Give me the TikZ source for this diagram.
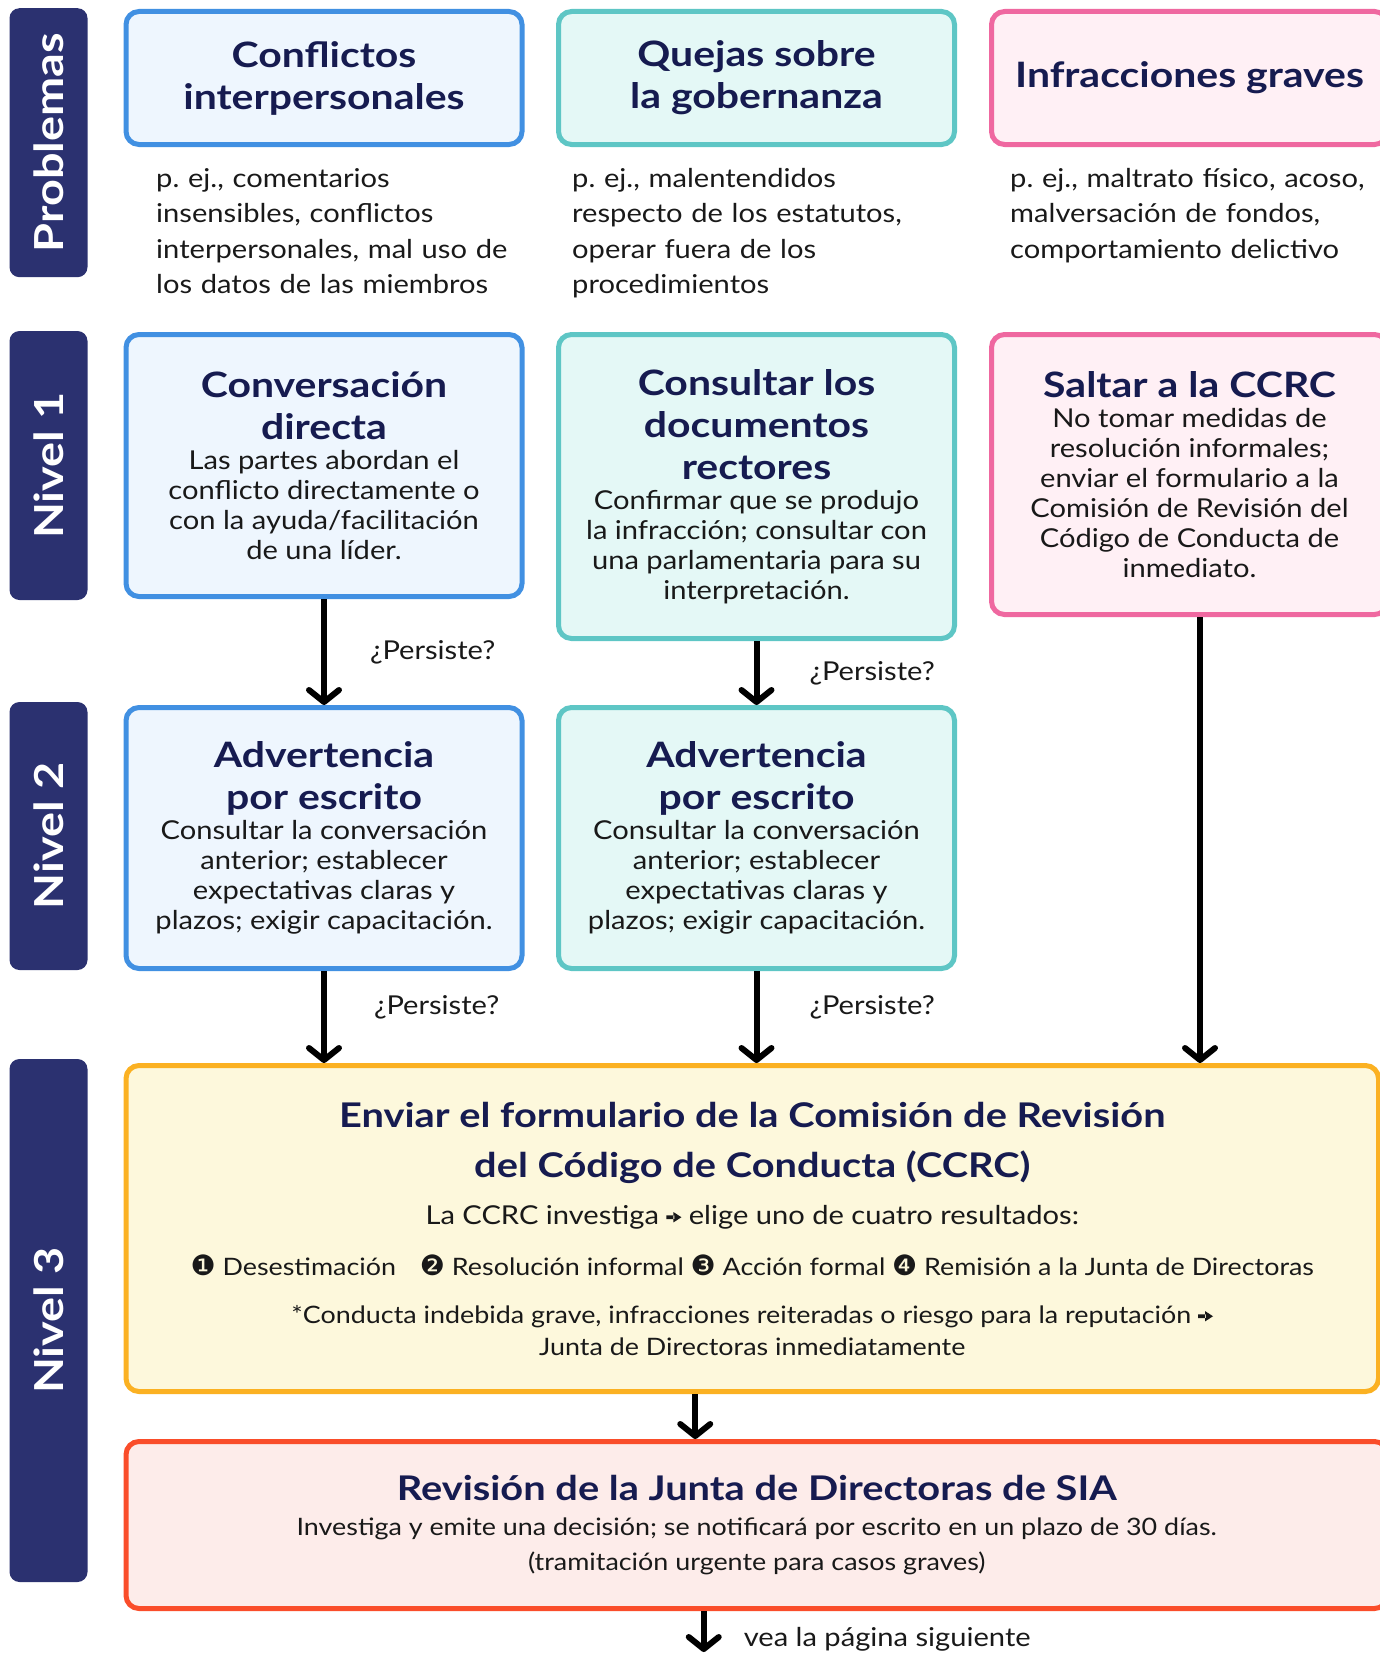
\documentclass[tikz,border=0pt]{standalone}
\usepackage{fontspec}
\setmainfont{Lato}[FakeStretch=1.12]
\newfontfamily\titfont{Lato}[FakeStretch=1.17]
\newfontfamily\symfont{DejaVu Sans}
\usetikzlibrary{arrows.meta}
\frenchspacing

\definecolor{marino}{RGB}{43,49,112}
\definecolor{tinta}{RGB}{22,27,80}
\definecolor{azulborde}{RGB}{65,144,226}
\definecolor{azulfondo}{RGB}{238,246,254}
\definecolor{vdborde}{RGB}{94,198,197}
\definecolor{vdfondo}{RGB}{228,248,246}
\definecolor{rosaborde}{RGB}{239,104,160}
\definecolor{rosafondo}{RGB}{255,240,245}
\definecolor{amborde}{RGB}{251,177,34}
\definecolor{amfondo}{RGB}{253,248,220}
\definecolor{rojoborde}{RGB}{250,77,42}
\definecolor{rojofondo}{RGB}{253,236,234}

% tamano de letra con espacios fijos
\newcommand{\tam}[2]{\fontsize{#1}{#2}\selectfont\spaceskip=\fontdimen2\font\xspaceskip=\fontdimen2\font\relax}
\newcommand{\titulo}[1]{{\titfont\bfseries\tam{35}{42}\color{tinta}#1\par}}
\newcommand{\cuerpo}[1]{{\tam{26}{30}#1\par}}
\newcommand{\flechita}{\tikz[x=1pt, y=1pt, baseline=0pt, sharp corners]\fill (0,5) rectangle (8,8.6) (7,1.6) -- (15,6.8) -- (7,12) -- cycle;}
\newcommand{\circulo}[1]{{\symfont\fontsize{28}{28}\selectfont #1}}

\tikzset{
  nivel/.style={fill=marino, rounded corners=10pt, rotate=90, minimum height=78pt,
                inner sep=0pt, text=white, font=\titfont\bfseries\fontsize{40}{40}\selectfont},
  caja/.style={line width=5pt, rounded corners=13pt, outer sep=2.5pt, anchor=north west,
               align=center, inner xsep=10pt, inner ysep=0pt, text width=376pt,
               minimum width=396pt, text=black!90, font=\fontsize{26}{30}\selectfont},
  azul/.style={caja, draw=azulborde, fill=azulfondo},
  verde/.style={caja, draw=vdborde, fill=vdfondo},
  rosa/.style={caja, draw=rosaborde, fill=rosafondo},
  ejemplo/.style={anchor=base west, align=left, text width=380pt, inner sep=0pt,
                  text=black!90, font=\fontsize{26}{35.5}\selectfont},
  flecha/.style={line width=6pt, -{Straight Barb[length=12pt, width=30pt, round]}},
  persiste/.style={font=\fontsize{26}{30}\selectfont, anchor=west, inner sep=0pt, text=black!90}
}

\begin{document}
\begin{tikzpicture}[x=1pt, y=-1pt]
  \useasboundingbox (0,0) rectangle (1380,1654);

  % etiquetas laterales
  \node[nivel, minimum width=269pt] (nprob) at (48.5,142.7) {Problemas};
  \node[nivel, minimum width=269pt] (n1) at (48.5,465.5) {Nivel 1};
  \node[nivel, minimum width=268pt] (n2) at (48.5,836) {Nivel 2};
  \node[nivel, minimum width=523pt] (n3) at (48.5,1320.5) {Nivel 3};

  % problemas
  \node[azul, minimum height=133pt] (conf) at (123.5,9) {\titulo{Conflictos\\interpersonales}};
  \node[verde, minimum height=133pt] (quejas) at (556,9) {\titulo{Quejas sobre\\la gobernanza}};
  \node[rosa, minimum height=133pt] (infr) at (989,9) {\titulo{Infracciones graves}};

  \node[ejemplo] (ej1) at (156,187) {p. ej., comentarios\\insensibles, conflictos\\interpersonales, mal uso de\\los datos de las miembros};
  \node[ejemplo] (ej2) at (572,187) {p. ej., malentendidos\\respecto de los estatutos,\\operar fuera de los\\procedimientos};
  \node[ejemplo] (ej3) at (1010,187) {p. ej., maltrato físico, acoso,\\malversación de fondos,\\comportamiento delictivo};

  % nivel 1
  \node[azul, minimum height=262pt] (conv) at (123.5,332)
    {\titulo{Conversación\\directa}\cuerpo{Las partes abordan el\\conflicto directamente o\\con la ayuda/facilitación\\de una líder.}};
  \node[verde, minimum height=304pt] (docs) at (556,332)
    {\titulo{Consultar los\\documentos\\rectores}\cuerpo{Confirmar que se produjo\\la infracción; consultar con\\una parlamentaria para su\\interpretación.}};
  \node[rosa, minimum height=280pt] (saltar) at (989,332)
    {\titulo{Saltar a la CCRC}\cuerpo{No tomar medidas de\\resolución informales;\\enviar el formulario a la\\Comisión de Revisión del\\Código de Conducta de\\inmediato.}};

  % nivel 2
  \node[azul, minimum height=261pt] (adv1) at (123.5,705)
    {\titulo{Advertencia\\por escrito}\cuerpo{Consultar la conversación\\anterior; establecer\\expectativas claras y\\plazos; exigir capacitación.}};
  \node[verde, minimum height=261pt] (adv2) at (556,705)
    {\titulo{Advertencia\\por escrito}\cuerpo{Consultar la conversación\\anterior; establecer\\expectativas claras y\\plazos; exigir capacitación.}};

  % nivel 3
  \node[caja, draw=amborde, fill=amfondo, minimum width=1252.5pt, text width=1232pt,
        minimum height=326pt] (ccrc) at (123.5,1063)
    {{\titfont\bfseries\tam{34}{50}\color{tinta}Enviar el formulario de la Comisión de Revisión\\del Código de Conducta (CCRC)\par}
     {\tam{26}{47}La CCRC investiga \flechita{} elige uno de cuatro resultados:\par}
     {\tam{24}{51}\circulo{❶} Desestimación\quad\circulo{❷} Resolución informal \circulo{❸} Acción formal \circulo{❹} Remisión a la Junta de Directoras\par}
     {\tam{24}{48}*Conducta indebida grave, infracciones reiteradas o riesgo para la reputación \flechita\par}
     {\tam{24}{32}Junta de Directoras inmediatamente\par}};
  \node[caja, draw=rojoborde, fill=rojofondo, minimum width=1261.5pt, text width=1241pt,
        minimum height=167pt] (junta) at (123.5,1439)
    {{\titfont\bfseries\tam{34}{42}\color{tinta}Revisión de la Junta de Directoras de SIA\par}
     {\tam{24}{35}Investiga y emite una decisión; se notificará por escrito en un plazo de 30 días.\\(tramitación urgente para casos graves)\par}};

  % flechas
  \draw[flecha] (conv.south) -- (adv1.north) node[persiste, midway, xshift=43pt] {¿Persiste?};
  \draw[flecha] (docs.south) -- (adv2.north) node[persiste, midway, xshift=50pt] {¿Persiste?};
  \draw[flecha] (adv1.south) -- (adv1.south |- ccrc.north) node[persiste, pos=.4, xshift=47pt] {¿Persiste?};
  \draw[flecha] (adv2.south) -- (adv2.south |- ccrc.north) node[persiste, pos=.4, xshift=50pt] {¿Persiste?};
  \draw[flecha] ([xshift=10.5pt]saltar.south) -- ([xshift=10.5pt]saltar.south |- ccrc.north);
  \draw[flecha] ([xshift=-57pt]ccrc.south) -- ([xshift=-57pt]ccrc.south |- junta.north);
  \coordinate (sig) at ([xshift=-53pt, yshift=-41pt]junta.south);
  \draw[flecha] ([xshift=-53pt]junta.south) -- (sig) node[persiste, pos=.7, xshift=37pt] {vea la página siguiente};
\end{tikzpicture}
\end{document}
